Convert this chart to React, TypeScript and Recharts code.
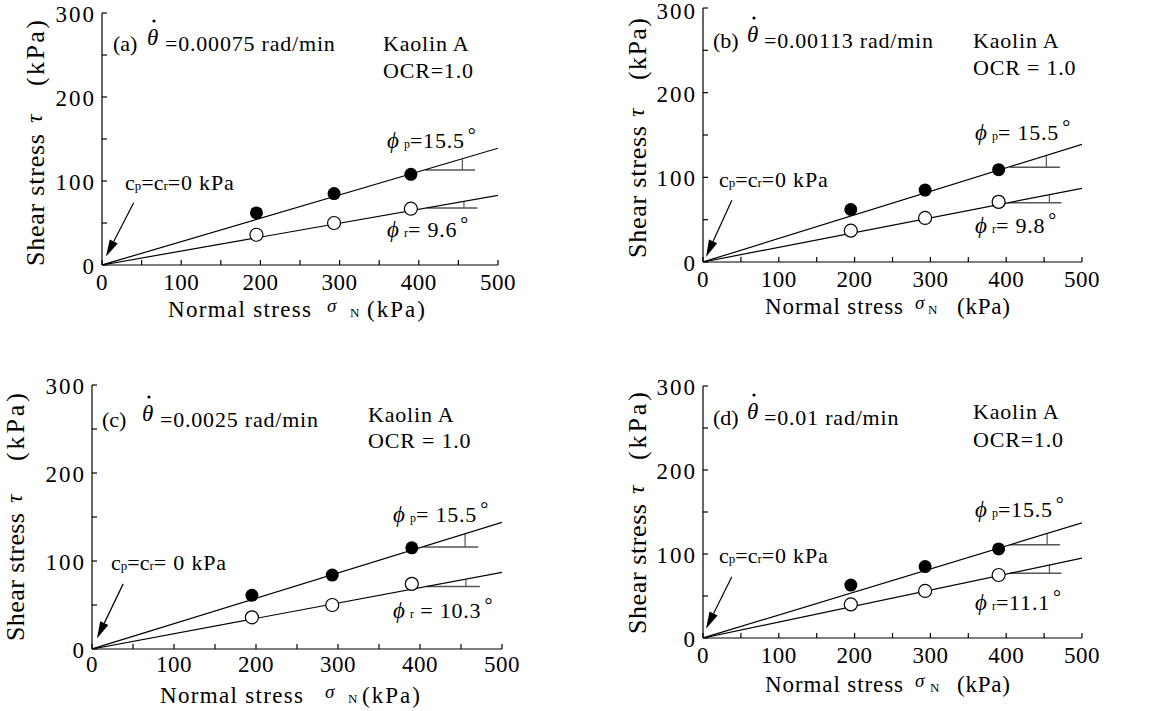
import React from "react";
import {
  ComposedChart,
  XAxis,
  YAxis,
  Scatter,
  ReferenceLine,
  Customized,
} from "recharts";

const FONT = '"Liberation Serif", "Times New Roman", serif';

// axes
const xTicks = [0, 50, 100, 150, 200, 250, 300, 350, 400, 450, 500];
const yTicks = [0, 50, 100, 150, 200, 250, 300];

// normal stress of the three tests (kPa)
const normalStress = [195, 293, 390];

// peak (filled) and residual (open) shear stress, kPa
const peakA = [62, 85, 108];
const residA = [36, 50, 67];
const peakB = [62, 85, 109];
const residB = [37, 52, 71];
const peakC = [61, 84, 115];
const residC = [36, 50, 74];
const peakD = [63, 85, 106];
const residD = [40, 56, 75];

// fitted envelopes: tau at sigma = 0 and sigma = 500
const peakLineA = [0, 139];
const residLineA = [0, 83];
const peakLineB = [0, 139];
const residLineB = [0, 87];
const peakLineC = [0, 144];
const residLineC = [0, 87];
const peakLineD = [0, 137];
const residLineD = [0, 95];

// angle marks [x start, x end, y, x of arc, y top of arc]
const peakMarkA = [408, 471, 113, 455, 126];
const residMarkA = [410, 474, 68, 457, 76];
const peakMarkB = [405, 471, 112, 453, 126];
const residMarkB = [402, 473, 70, 457, 79];
const peakMarkC = [404, 471, 116, 455, 131];
const residMarkC = [408, 473, 71, 456, 79];
const peakMarkD = [405, 471, 111, 454, 124];
const residMarkD = [405, 473, 77, 457, 87];

// arrow to the origin [x start, y start, x tip, y tip]
const arrowA = [40, 74, 5, 10];
const arrowB = [38, 73, 4, 6];
const arrowC = [38, 74, 6, 12];
const arrowD = [38, 73, 4, 11];

const tags = ["(a)", "(b)", "(c)", "(d)"];
const rates = ["=0.00075 rad/min", "=0.00113 rad/min", "=0.0025 rad/min", "=0.01 rad/min"];
const ocrText = ["OCR=1.0", "OCR = 1.0", "OCR = 1.0", "OCR=1.0"];
const phiPText = ["=15.5", "= 15.5", "= 15.5", "=15.5"];
const phiRText = ["= 9.6", "= 9.8", " = 10.3", "=11.1"];
const cText = ["=0 kPa", "=0 kPa", "= 0 kPa", "=0 kPa"];

type Pt = { x: number; y: number };
const toPts = (ys: number[]): Pt[] => normalStress.map((x, i) => ({ x, y: ys[i] }));
const toLine = (l: number[]): Pt[] => [
  { x: 0, y: l[0] },
  { x: 500, y: l[1] },
];

// page layout for each panel (pixels)
const layouts = [
  { box: [0, 0, 580, 355], plot: [102, 13, 498, 265], tick: 25,
    tag: [113, 51], theta: 147, rate: 165, kaolin: [383, 51], ocr: [383, 78],
    phiP: [387, 148], phiR: [387, 237], c: [125, 190],
    yl: [44, 266, 132, 143, 180, 66], xl: [168, 317, 143, 159, 182, 199, 58] },
  { box: [580, 0, 583, 355], plot: [703, 8, 1082, 262], tick: 25,
    tag: [713, 48], theta: 747, rate: 764, kaolin: [973, 48], ocr: [973, 75],
    phiP: [975, 140], phiR: [975, 233], c: [719, 187],
    yl: [646, 258, 132, 141, 178, 62], xl: [765, 314, 138, 150, 163, 192, 53] },
  { box: [0, 355, 580, 356], plot: [92, 385, 502, 649], tick: 23,
    tag: [102, 427], theta: 142, rate: 160, kaolin: [368, 422], ocr: [368, 448],
    phiP: [393, 522], phiR: [393, 618], c: [111, 570],
    yl: [24, 641, 128, 138, 180, 68], xl: [160, 703, 143, 165, 188, 202, 58] },
  { box: [580, 355, 583, 356], plot: [703, 386, 1082, 638], tick: 25,
    tag: [713, 425], theta: 747, rate: 764, kaolin: [973, 419], ocr: [973, 447],
    phiP: [975, 517], phiR: [975, 610], c: [719, 563],
    yl: [646, 634, 130, 140, 174, 68], xl: [765, 692, 138, 150, 165, 192, 53] },
];

const panels = [
  { peak: peakA, resid: residA, pl: peakLineA, rl: residLineA, pm: peakMarkA, rm: residMarkA, arrow: arrowA },
  { peak: peakB, resid: residB, pl: peakLineB, rl: residLineB, pm: peakMarkB, rm: residMarkB, arrow: arrowB },
  { peak: peakC, resid: residC, pl: peakLineC, rl: residLineC, pm: peakMarkC, rm: residMarkC, arrow: arrowC },
  { peak: peakD, resid: residD, pl: peakLineD, rl: residLineD, pm: peakMarkD, rm: residMarkD, arrow: arrowD },
];

const arrowShape = (p: any) => {
  const { x1, y1, x2, y2 } = p;
  const dx = x2 - x1;
  const dy = y2 - y1;
  const len = Math.hypot(dx, dy) || 1;
  const ux = dx / len;
  const uy = dy / len;
  const hl = 17;
  const hw = 4.5;
  const bx = x2 - ux * hl;
  const by = y2 - uy * hl;
  return (
    <g>
      <line x1={x1} y1={y1} x2={bx} y2={by} stroke="#000" strokeWidth={1.2} />
      <polygon
        points={`${x2},${y2} ${bx - uy * hw},${by + ux * hw} ${bx + uy * hw},${by - ux * hw}`}
        fill="#000"
      />
    </g>
  );
};

const filledDot = (p: any) => <circle cx={p.cx} cy={p.cy} r={6.5} fill="#000" />;
const openDot = (p: any) => (
  <circle cx={p.cx} cy={p.cy} r={6.5} fill="#fff" stroke="#000" strokeWidth={1.2} />
);
const noDot = () => <g />;

function Panel({ idx }: { idx: number }) {
  const L = layouts[idx];
  const P = panels[idx];
  const [bl, bt, bw, bh] = L.box;
  const [pl, pt, pr, pb] = L.plot;
  const ox = (x: number) => x - bl;
  const oy = (y: number) => y - bt;
  const txt = { fontFamily: FONT, fill: "#000" } as const;

  const xTick = (p: any) => {
    const v = p.payload.value;
    if (v % 100 !== 0) return <g />;
    return (
      <text x={p.x} y={p.y + L.tick} textAnchor="middle" fontSize={23} letterSpacing={0.5} {...txt}>
        {v}
      </text>
    );
  };
  const yTick = (p: any) => {
    const v = p.payload.value;
    if (v % 100 !== 0) return <g />;
    return (
      <text x={p.x - 6} y={Math.max(p.y + 9, 19)} textAnchor="end" fontSize={23} letterSpacing={2} {...txt}>
        {v}
      </text>
    );
  };

  const [yx, ys, ylen, ytau, ykpa, ykpaLen] = L.yl;
  const [xx, xy, xlen, xsig, xn, xkpa, xkpaLen] = L.xl;
  const ty = oy(L.tag[1]);

  const overlay = () => (
    <g>
      {/* rate of rotation */}
      <text x={ox(L.tag[0])} y={ty} fontSize={22} {...txt}>{tags[idx]}</text>
      <text x={ox(L.theta)} y={ty - 6} fontSize={23} fontStyle="italic" {...txt}>θ</text>
      <circle cx={ox(L.theta) + 7} cy={ty - 30} r={1.6} fill="#000" />
      <text x={ox(L.rate)} y={ty} fontSize={22} letterSpacing={0.8} {...txt}>{rates[idx]}</text>
      <text x={ox(L.kaolin[0])} y={oy(L.kaolin[1])} fontSize={22} letterSpacing={0.8} {...txt}>Kaolin A</text>
      <text x={ox(L.ocr[0])} y={oy(L.ocr[1])} fontSize={22} letterSpacing={0.8} {...txt}>{ocrText[idx]}</text>
      {/* friction angles */}
      <text x={ox(L.phiP[0])} y={oy(L.phiP[1])} fontSize={23} {...txt}>
        <tspan fontStyle="italic">ϕ</tspan>
        <tspan dx={5} fontSize={12}>p</tspan>
        <tspan fontSize={22} letterSpacing={0.8}>{phiPText[idx]}</tspan>
        <tspan dx={3} dy={-6} fontSize={20}>°</tspan>
      </text>
      <text x={ox(L.phiR[0])} y={oy(L.phiR[1])} fontSize={23} {...txt}>
        <tspan fontStyle="italic">ϕ</tspan>
        <tspan dx={5} fontSize={12}>r</tspan>
        <tspan fontSize={22} letterSpacing={0.8}>{phiRText[idx]}</tspan>
        <tspan dx={3} dy={-6} fontSize={20}>°</tspan>
      </text>
      {/* cohesion */}
      <text x={ox(L.c[0])} y={oy(L.c[1])} fontSize={22} {...txt}>
        <tspan>c</tspan>
        <tspan fontSize={13}>p</tspan>
        <tspan>=c</tspan>
        <tspan fontSize={13}>r</tspan>
        <tspan letterSpacing={0.8}>{cText[idx]}</tspan>
      </text>
      {/* y axis title */}
      <g transform={`translate(${ox(yx)},${oy(ys)}) rotate(-90)`}>
        <text x={0} y={0} fontSize={26} textLength={ylen} lengthAdjust="spacing" {...txt}>Shear stress</text>
        <text x={ytau} y={-2} fontSize={24} fontStyle="italic" {...txt}>τ</text>
        <text x={ykpa} y={0} fontSize={26} textLength={ykpaLen} lengthAdjust="spacing" {...txt}>(kPa)</text>
      </g>
      {/* x axis title */}
      <text x={ox(xx)} y={oy(xy)} fontSize={23} textLength={xlen} lengthAdjust="spacing" {...txt}>Normal stress</text>
      <text x={ox(xx + xsig)} y={oy(xy) - 5} fontSize={19} fontStyle="italic" {...txt}>σ</text>
      <text x={ox(xx + xn)} y={oy(xy)} fontSize={13} {...txt}>N</text>
      <text x={ox(xx + xkpa)} y={oy(xy)} fontSize={23} textLength={xkpaLen} lengthAdjust="spacing" {...txt}>(kPa)</text>
    </g>
  );

  const axisStroke = { stroke: "#000", strokeWidth: 1.2 };

  return (
    <div style={{ position: "absolute", left: bl, top: bt, width: bw, height: bh }}>
      <ComposedChart
        width={bw}
        height={bh}
        margin={{ top: pt - bt, left: 0, right: bl + bw - pr, bottom: bt + bh - pb - 30 }}
      >
        <XAxis
          type="number"
          dataKey="x"
          domain={[0, 500]}
          ticks={xTicks}
          allowDataOverflow
          height={30}
          tickSize={-5}
          tickMargin={5}
          axisLine={axisStroke}
          tickLine={axisStroke}
          tick={xTick}
        />
        <XAxis
          xAxisId="top"
          orientation="top"
          type="number"
          dataKey="x"
          domain={[0, 500]}
          ticks={xTicks}
          height={0}
          mirror
          tickSize={5}
          axisLine={axisStroke}
          tickLine={axisStroke}
          tick={false}
        />
        <YAxis
          type="number"
          dataKey="y"
          domain={[0, 300]}
          ticks={yTicks}
          allowDataOverflow
          width={pl - bl}
          tickSize={-5}
          tickMargin={5}
          axisLine={axisStroke}
          tickLine={axisStroke}
          tick={yTick}
        />
        <YAxis
          yAxisId="right"
          orientation="right"
          type="number"
          dataKey="y"
          domain={[0, 300]}
          ticks={yTicks}
          width={0}
          mirror
          tickSize={5}
          axisLine={axisStroke}
          tickLine={axisStroke}
          tick={false}
        />
        <Scatter
          data={toLine(P.pl)}
          line={{ stroke: "#000", strokeWidth: 1.2 }}
          shape={noDot}
          isAnimationActive={false}
        />
        <Scatter
          data={toLine(P.rl)}
          line={{ stroke: "#000", strokeWidth: 1.2 }}
          shape={noDot}
          isAnimationActive={false}
        />
        <ReferenceLine segment={[{ x: P.pm[0], y: P.pm[2] }, { x: P.pm[1], y: P.pm[2] }]} stroke="#555" strokeWidth={1.5} />
        <ReferenceLine segment={[{ x: P.pm[3], y: P.pm[2] }, { x: P.pm[3], y: P.pm[4] }]} stroke="#555" strokeWidth={1.2} />
        <ReferenceLine segment={[{ x: P.rm[0], y: P.rm[2] }, { x: P.rm[1], y: P.rm[2] }]} stroke="#555" strokeWidth={1.5} />
        <ReferenceLine segment={[{ x: P.rm[3], y: P.rm[2] }, { x: P.rm[3], y: P.rm[4] }]} stroke="#555" strokeWidth={1.2} />
        <ReferenceLine
          segment={[{ x: P.arrow[0], y: P.arrow[1] }, { x: P.arrow[2], y: P.arrow[3] }]}
          shape={arrowShape}
        />
        <Scatter data={toPts(P.peak)} shape={filledDot} isAnimationActive={false} />
        <Scatter data={toPts(P.resid)} shape={openDot} isAnimationActive={false} />
        <Customized component={overlay} />
      </ComposedChart>
    </div>
  );
}

export default function App() {
  return (
    <div
      style={{
        position: "absolute",
        left: 0,
        top: 0,
        width: 1163,
        height: 711,
        background: "#fff",
        overflow: "hidden",
      }}
    >
      {[0, 1, 2, 3].map((i) => (
        <Panel key={i} idx={i} />
      ))}
    </div>
  );
}
